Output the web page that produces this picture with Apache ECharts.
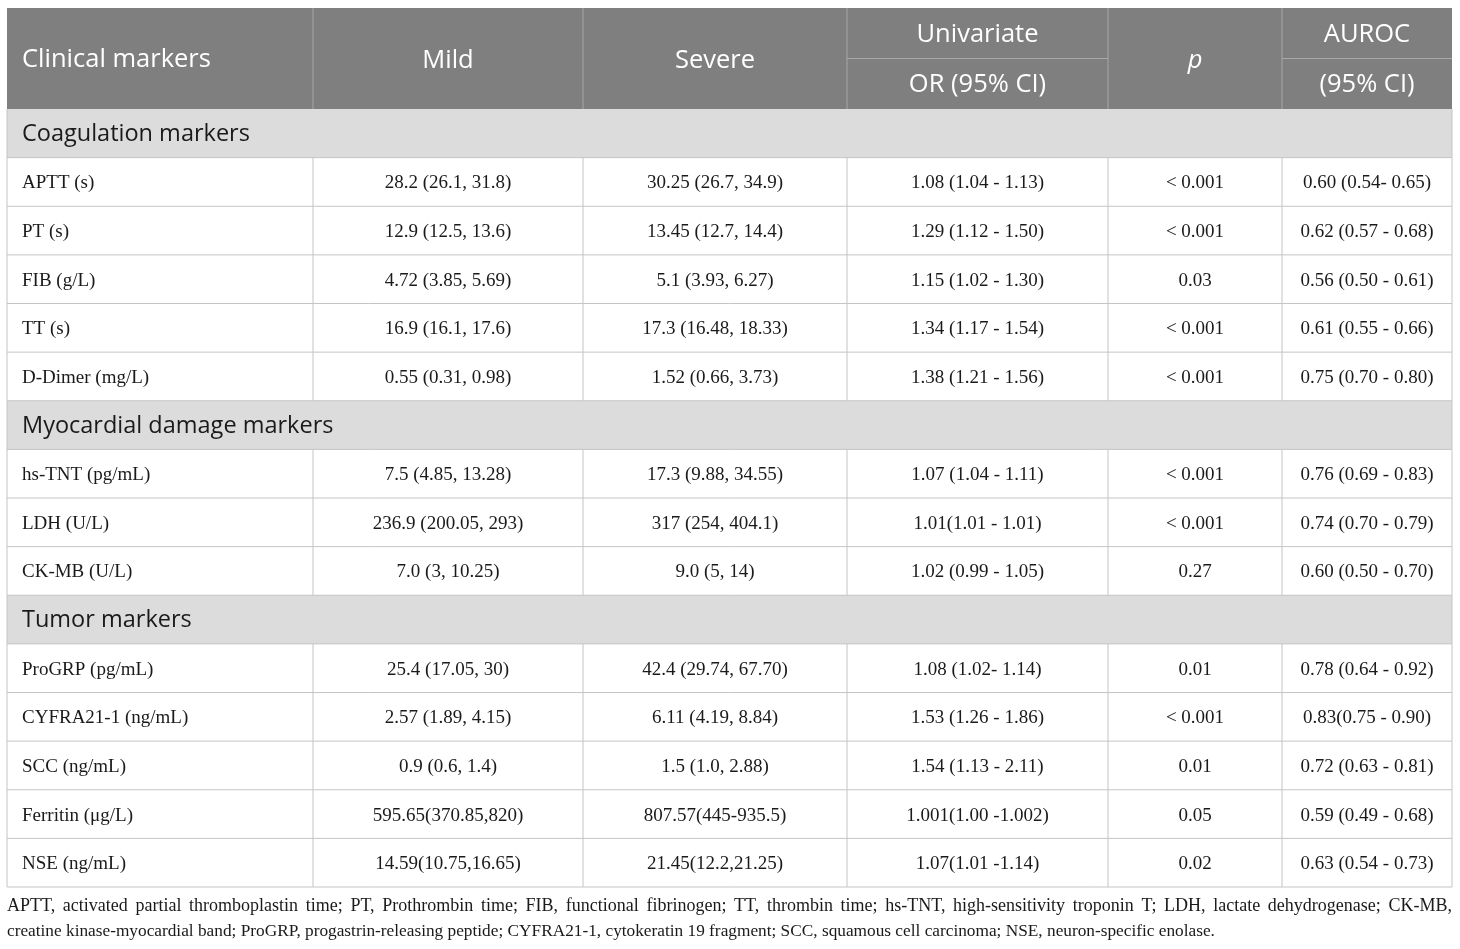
<!DOCTYPE html>
<html>
<head>
<meta charset="utf-8">
<script src="https://cdn.jsdelivr.net/npm/echarts@6/dist/echarts.min.js"></script>
<style>
  html, body { margin: 0; padding: 0; background: #fff; }
  #main { width: 1460px; height: 949px; }
</style>
</head>
<body>
<div id="main"></div>
<script>
// table content
var headerTop = ['Clinical markers', 'Mild', 'Severe', 'Univariate', 'p', 'AUROC'];
var headerSub = ['', '', '', 'OR (95% CI)', '', '(95% CI)'];
var sections = ['Coagulation markers', 'Myocardial damage markers', 'Tumor markers'];
var sectionSize = [5, 3, 5];
var markers = ['APTT (s)', 'PT (s)', 'FIB (g/L)', 'TT (s)', 'D-Dimer (mg/L)',
    'hs-TNT (pg/mL)', 'LDH (U/L)', 'CK-MB (U/L)',
    'ProGRP (pg/mL)', 'CYFRA21-1 (ng/mL)', 'SCC (ng/mL)', 'Ferritin (\u03bcg/L)', 'NSE (ng/mL)'];
var mild = ['28.2 (26.1, 31.8)', '12.9 (12.5, 13.6)', '4.72 (3.85, 5.69)', '16.9 (16.1, 17.6)', '0.55 (0.31, 0.98)',
    '7.5 (4.85, 13.28)', '236.9 (200.05, 293)', '7.0 (3, 10.25)',
    '25.4 (17.05, 30)', '2.57 (1.89, 4.15)', '0.9 (0.6, 1.4)', '595.65(370.85,820)', '14.59(10.75,16.65)'];
var severe = ['30.25 (26.7, 34.9)', '13.45 (12.7, 14.4)', '5.1 (3.93, 6.27)', '17.3 (16.48, 18.33)', '1.52 (0.66, 3.73)',
    '17.3 (9.88, 34.55)', '317 (254, 404.1)', '9.0 (5, 14)',
    '42.4 (29.74, 67.70)', '6.11 (4.19, 8.84)', '1.5 (1.0, 2.88)', '807.57(445-935.5)', '21.45(12.2,21.25)'];
var orCI = ['1.08 (1.04 - 1.13)', '1.29 (1.12 - 1.50)', '1.15 (1.02 - 1.30)', '1.34 (1.17 - 1.54)', '1.38 (1.21 - 1.56)',
    '1.07 (1.04 - 1.11)', '1.01(1.01 - 1.01)', '1.02 (0.99 - 1.05)',
    '1.08 (1.02- 1.14)', '1.53 (1.26 - 1.86)', '1.54 (1.13 - 2.11)', '1.001(1.00 -1.002)', '1.07(1.01 -1.14)'];
var pValue = ['< 0.001', '< 0.001', '0.03', '< 0.001', '< 0.001',
    '< 0.001', '< 0.001', '0.27',
    '0.01', '< 0.001', '0.01', '0.05', '0.02'];
var auroc = ['0.60 (0.54- 0.65)', '0.62 (0.57 - 0.68)', '0.56 (0.50 - 0.61)', '0.61 (0.55 - 0.66)', '0.75 (0.70 - 0.80)',
    '0.76 (0.69 - 0.83)', '0.74 (0.70 - 0.79)', '0.60 (0.50 - 0.70)',
    '0.78 (0.64 - 0.92)', '0.83(0.75 - 0.90)', '0.72 (0.63 - 0.81)', '0.59 (0.49 - 0.68)', '0.63 (0.54 - 0.73)'];
var footnote = [
    'APTT, activated partial thromboplastin time; PT, Prothrombin time; FIB, functional fibrinogen; TT, thrombin time; hs-TNT, high-sensitivity troponin T; LDH, lactate dehydrogenase; CK-MB,',
    'creatine kinase-myocardial band; ProGRP, progastrin-releasing peptide; CYFRA21-1, cytokeratin 19 fragment; SCC, squamous cell carcinoma; NSE, neuron-specific enolase.'
];

// layout
var W = 1460, H = 949;
var colEdges = [7, 313, 583, 847, 1108, 1282, 1452];
var tableTop = 8, headH = 101, rowH = 48.625;
var padLeft = 15;
var sansFont = '"Open Sans", "Noto Sans", sans-serif';
var serifFont = '"Liberation Serif", "DejaVu Serif", serif';
var noteFont = '17.3px ' + serifFont;
var noteFontWide = '18px ' + serifFont;

// build row list: header, then section + data rows
var rows = [{kind: 'head', y0: tableTop, y1: tableTop + headH}];
var y = tableTop + headH, k = 0;
sections.forEach(function (name, s) {
    rows.push({kind: 'sec', text: name, y0: y, y1: y + rowH});
    y += rowH;
    for (var i = 0; i < sectionSize[s]; i++, k++) {
        rows.push({kind: 'row', cells: [markers[k], mild[k], severe[k], orCI[k], pValue[k], auroc[k]], y0: y, y1: y + rowH});
        y += rowH;
    }
});
rows.push({kind: 'note', y0: y, y1: H});

// first footnote line is justified to the table width
var measureCtx = document.createElement('canvas').getContext('2d');
function justifyWords(line, width, font) {
    measureCtx.font = font;
    var words = line.split(' ');
    var widths = words.map(function (w) { return measureCtx.measureText(w).width; });
    var total = widths.reduce(function (a, b) { return a + b; }, 0);
    var gap = (width - total) / (words.length - 1);
    var out = [], x = 0;
    words.forEach(function (w, i) {
        out.push({text: w, dx: x});
        x += widths[i] + gap;
    });
    return out;
}

function renderItem(params, api) {
    var r = rows[params.dataIndex];
    var children = [];
    var left = api.coord([colEdges[0], r.y0]);
    var right = api.coord([colEdges[colEdges.length - 1], r.y1]);
    var top = left[1], bottom = right[1], x0 = left[0], x1 = right[0];
    var ex = function (c) { return api.coord([colEdges[c], 0])[0]; };
    var cx = function (c) { return (ex(c) + ex(c + 1)) / 2; };
    var line = function (ax, ay, bx, by, color) {
        children.push({type: 'line', shape: {x1: ax, y1: ay, x2: bx, y2: by},
            style: {stroke: color, lineWidth: 1}, z2: 5});
    };
    var text = function (t, x, yy, align, font, color) {
        children.push({type: 'text', style: {text: t, x: x, y: yy, align: align, verticalAlign: 'middle',
            font: font, fill: color}, z2: 10});
    };

    if (r.kind === 'head') {
        children.push({type: 'rect', shape: {x: x0, y: top, width: x1 - x0, height: bottom - top},
            style: {fill: '#7f7f7f'}});
        var mid = (top + bottom) / 2;
        for (var c = 1; c < colEdges.length - 1; c++) line(ex(c), top, ex(c), bottom, '#a8a8a8');
        line(ex(3), mid, ex(4), mid, '#a8a8a8');
        line(ex(5), mid, ex(6), mid, '#a8a8a8');
        var hf = '25.5px ' + sansFont;
        text(headerTop[0], ex(0) + padLeft, mid + 1, 'left', hf, '#fff');
        for (var c2 = 1; c2 < headerTop.length; c2++) {
            var f = c2 === 4 ? 'italic ' + hf : hf;
            if (headerSub[c2]) {
                text(headerTop[c2], cx(c2), (top + mid) / 2 + 1, 'center', f, '#fff');
                text(headerSub[c2], cx(c2), (mid + bottom) / 2 + 1, 'center', f, '#fff');
            } else {
                text(headerTop[c2], cx(c2), mid + 2, 'center', f, '#fff');
            }
        }
    } else if (r.kind === 'sec') {
        children.push({type: 'rect', shape: {x: x0, y: top, width: x1 - x0, height: bottom - top},
            style: {fill: '#dcdcdc'}});
        line(x0, top, x0, bottom, '#c4c4c4');
        line(x1, top, x1, bottom, '#c4c4c4');
        line(x0, bottom, x1, bottom, '#c4c4c4');
        text(r.text, x0 + padLeft, (top + bottom) / 2 + 1, 'left', '23.5px ' + sansFont, '#1a1a1a');
    } else if (r.kind === 'row') {
        for (var c3 = 0; c3 < colEdges.length; c3++) line(ex(c3), top, ex(c3), bottom, '#c4c4c4');
        line(x0, bottom, x1, bottom, '#c4c4c4');
        var bf = '19px ' + serifFont;
        var ym = (top + bottom) / 2 + 1.5;
        text(r.cells[0], x0 + padLeft, ym, 'left', bf, '#1a1a1a');
        for (var c4 = 1; c4 < r.cells.length; c4++) text(r.cells[c4], cx(c4), ym, 'center', bf, '#1a1a1a');
    } else {
        justifyWords(footnote[0], x1 - x0, noteFontWide).forEach(function (w) {
            text(w.text, x0 + w.dx, top + 19, 'left', noteFontWide, '#1a1a1a');
        });
        text(footnote[1], x0, top + 44, 'left', noteFont, '#1a1a1a');
    }
    return {type: 'group', children: children};
}

var chart = echarts.init(document.getElementById('main'), null, {renderer: 'canvas'});
chart.setOption({
    animation: false,
    backgroundColor: '#fff',
    grid: {left: 0, right: 0, top: 0, bottom: 0},
    xAxis: {type: 'value', min: 0, max: W, show: false},
    yAxis: {type: 'value', min: 0, max: H, inverse: true, show: false},
    series: [{
        type: 'custom',
        renderItem: renderItem,
        clip: false,
        data: rows.map(function (r, i) { return [i, r.y0]; })
    }]
});
</script>
</body>
</html>
